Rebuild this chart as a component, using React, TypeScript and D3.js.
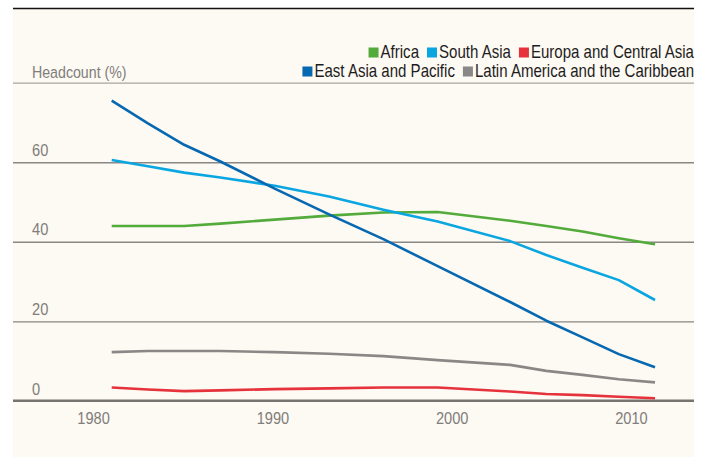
import React, { useEffect, useRef } from "react";
import * as d3 from "d3";

// poverty headcount, % of population
const years = [1981, 1983, 1985, 1987, 1990, 1993, 1996, 1999, 2003, 2005, 2007, 2009, 2011];
const africa = [44.1, 44.1, 44.1, 44.7, 45.7, 46.7, 47.5, 47.6, 45.4, 44.1, 42.7, 41.0, 39.5];
const southAsia = [60.7, 59.1, 57.5, 56.3, 54.2, 51.5, 48.2, 45.2, 40.3, 36.8, 33.6, 30.5, 25.5];
const europe = [3.5, 3.0, 2.6, 2.8, 3.1, 3.3, 3.5, 3.5, 2.5, 1.9, 1.6, 1.2, 0.8];
const eastAsia = [75.6, 69.9, 64.5, 60.3, 53.5, 47.0, 40.8, 34.0, 25.0, 20.3, 16.1, 11.9, 8.6];
const latinAmerica = [12.4, 12.7, 12.7, 12.7, 12.4, 12.0, 11.4, 10.4, 9.2, 7.7, 6.7, 5.6, 4.8];

const seriesNames = [
  "Africa",
  "South Asia",
  "Europa and Central Asia",
  "East Asia and Pacific",
  "Latin America and the Caribbean",
];
const legendRows = [
  ["Africa", "South Asia", "Europa and Central Asia"],
  ["East Asia and Pacific", "Latin America and the Caribbean"],
];
const yTicks = [0, 20, 40, 60, 80];
const yLabels = [0, 20, 40, 60];
const xTicks = [1980, 1990, 2000, 2010];

const colors: Record<string, string> = {
  "Africa": "#52ab3a",
  "South Asia": "#0aa6e2",
  "Europa and Central Asia": "#e5323b",
  "East Asia and Pacific": "#0768b2",
  "Latin America and the Caribbean": "#8a8886",
};

const font = "'Liberation Sans', Arial, sans-serif";
const squeeze = 0.86; // fake a condensed face

export default function App() {
  const ref = useRef<SVGSVGElement>(null);

  useEffect(() => {
    document.body.style.margin = "0";
    const height = 457;
    const left = 13;
    const right = 694;

    const svg = d3.select(ref.current);
    svg.selectAll("*").remove();

    const label = (parent: any, tx: number, ty: number, txt: string, size: number, fill: string, anchor = "start") =>
      parent.append("text")
        .attr("transform", `translate(${tx},${ty}) scale(${squeeze},1)`)
        .attr("text-anchor", anchor)
        .attr("font-family", font)
        .attr("font-size", size)
        .attr("fill", fill)
        .text(txt);

    svg.append("rect")
      .attr("x", left).attr("y", 8)
      .attr("width", right - left).attr("height", height - 8)
      .attr("fill", "#fdf9f3");
    svg.append("line")
      .attr("x1", left).attr("x2", right)
      .attr("y1", 8.5).attr("y2", 8.5)
      .attr("stroke", "#111").attr("stroke-width", 1.5);

    const x = d3.scaleLinear().domain([1981, 2011]).range([111.7, 655]);
    const y = d3.scaleLinear().domain([0, 80]).range([401.5, 83.1]);

    // grid
    svg.append("g")
      .selectAll("line")
      .data(yTicks)
      .enter()
      .append("line")
      .attr("x1", left).attr("x2", right)
      .attr("y1", (d) => (d === 0 ? y(d) - 0.7 : y(d)))
      .attr("y2", (d) => (d === 0 ? y(d) - 0.7 : y(d)))
      .attr("stroke", (d) => (d === 0 ? "#767370" : d === 80 ? "#a9a6a2" : "#8a8784"))
      .attr("stroke-width", (d) => (d === 0 ? 2.6 : 1.4));

    const gy = svg.append("g");
    yLabels.forEach((d) => label(gy, 32, y(d) - 7, String(d), 17, "#807d7a"));

    label(svg, 32, 78, "Headcount (%)", 16.5, "#807d7a");

    const gx = svg.append("g");
    xTicks.forEach((d) => label(gx, x(d) - (d - 1980) * 0.18, 424, String(d), 17, "#807d7a", "middle"));

    // lines
    const values = [africa, southAsia, europe, eastAsia, latinAmerica];
    const line = d3.line<number>()
      .x((d, i) => x(years[i]))
      .y((d) => y(d));
    const order = [4, 2, 0, 1, 3];
    order.forEach((k) => {
      svg.append("path")
        .attr("d", line(values[k]))
        .attr("fill", "none")
        .attr("stroke", colors[seriesNames[k]])
        .attr("stroke-width", 2.6)
        .attr("stroke-linejoin", "round");
    });

    // legend, right aligned
    const rowY = [58, 77];
    legendRows.forEach((row, r) => {
      const g = svg.append("g");
      let cx = 0;
      row.forEach((name, i) => {
        if (i > 0) cx += 8;
        g.append("rect")
          .attr("x", cx).attr("y", rowY[r] - 10.5)
          .attr("width", 10).attr("height", 10)
          .attr("fill", colors[name]);
        cx += 12;
        const t = label(g, cx, rowY[r], name, 17.5, "#1d1d1d");
        cx += (t.node() as SVGTextElement).getComputedTextLength() * squeeze;
      });
      g.attr("transform", `translate(${right - cx},0)`);
    });
  }, []);

  return <svg ref={ref} width={708} height={457} style={{ display: "block" }} />;
}
